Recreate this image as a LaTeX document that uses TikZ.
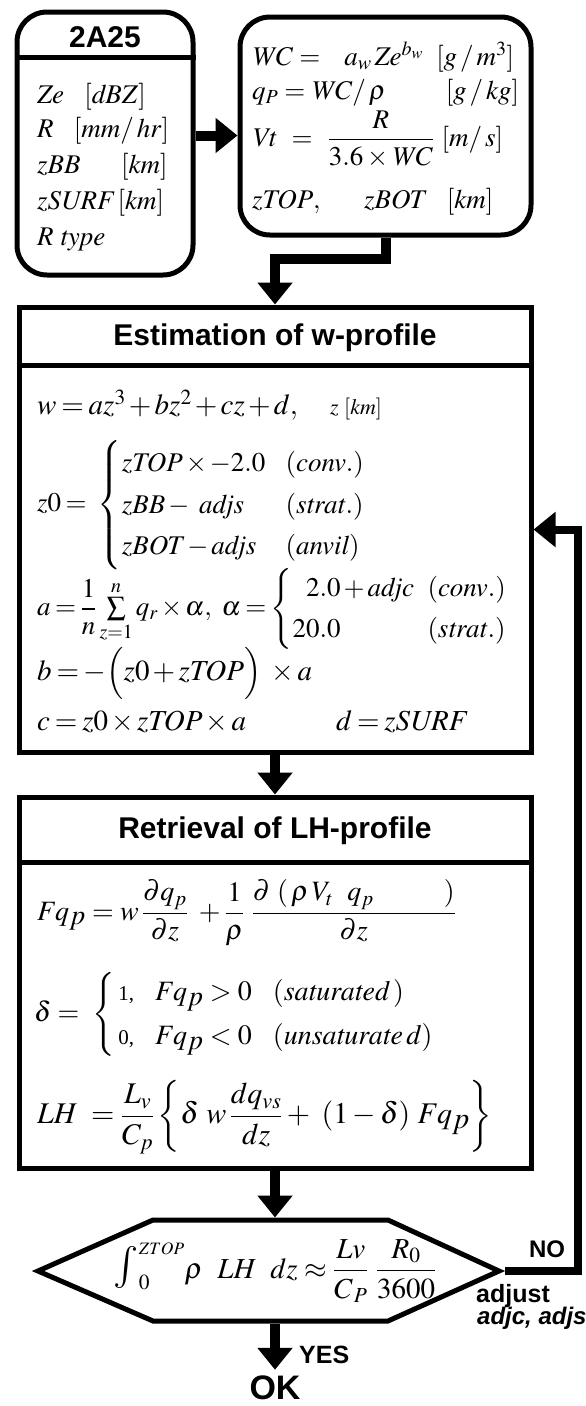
\documentclass[tikz,border=0pt]{standalone}
\usepackage{amsmath}
\usepackage{mathptmx}
\usepackage{fontspec}
\setmainfont{Liberation Serif}
\setsansfont{Liberation Sans}
\usetikzlibrary{arrows.meta}
\newcommand{\Fqp}{\mathit{F}q_{\textstyle p}}
\newcommand{\tightmath}{\medmuskip=2mu\relax\thickmuskip=3mu\relax}
\begin{document}
\begin{tikzpicture}[x=1pt,y=-1pt,
    roundbox/.style={draw,line width=5pt,rounded corners=30pt,inner sep=0pt},
    stepframe/.style={draw,line width=5pt,inner sep=0pt},
    sepline/.style={line width=5pt},
    headtext/.style={inner sep=0pt,font=\sffamily\bfseries\fontsize{30}{34}\selectfont},
    formula/.style={anchor=west,inner sep=0pt,font=\fontsize{27}{31}\selectfont},
    tightformula/.style={formula,font=\fontsize{27}{31}\selectfont\tightmath},
    widetight/.style={formula,font=\fontsize{29}{33}\selectfont\tightmath},
    bigformula/.style={formula,font=\fontsize{28}{31}\selectfont},
    answer/.style={inner sep=0pt,font=\sffamily\bfseries\fontsize{25}{28}\selectfont},
    flow/.style={line width=10pt,-{Triangle[length=22pt,width=34pt]}},
    backflow/.style={line width=8pt,-{Triangle[length=22pt,width=34pt]}}]
    \useasboundingbox (0,0) rectangle (586,1406);
    % input boxes
    \node[roundbox,minimum width=176pt,minimum height=263pt] (src) at (105,143.5) {};
    \node[headtext] (srchead) at (105,37) {2A25};
    \coordinate (srcsep) at (105,57);
    \draw[sepline] (src.west |- srcsep) -- (src.east |- srcsep);
    \node[formula] (ze) at (37,97) {$\mathit{Ze}\ \ \ [\mathit{dBZ}]$};
    \node[formula] (rr) at (37,131) {$R\ \ \ [\mathit{mm}/\,\mathit{hr}]$};
    \node[formula] (zbb) at (37,167) {$\mathit{zBB}\quad\ \ [\mathit{km}]$};
    \node[formula] (zsurf) at (37,203) {$\mathit{zSURF}\,[\mathit{km}]$};
    \node[formula] (rtype) at (37,240) {$R\ \mathit{type}$};
    \node[roundbox,minimum width=291pt,minimum height=218pt] (phys) at (385.5,126) {};
    \node[formula,text width=262pt] (wc) at (252,57) {$\mathit{WC}=\ \ a_w\,\mathit{Ze}^{b_w}$\hfill$[g\,/\,m^3]$\hspace*{6pt}};
    \node[formula,text width=267pt] (qp) at (252,93) {$q_P=\mathit{WC}/\,\rho$\hfill$[g\,/\,\mathit{kg}]$};
    \node[formula,text width=251pt] (vt) at (252,139) {$\mathit{Vt}\ =\ \dfrac{R}{3.6\times \mathit{WC}}$\hfill$[m/\,s]$};
    \node[formula] (ztop) at (252,202) {$\mathit{zTOP},\quad\ \ \mathit{zBOT}\ \ \ [\mathit{km}]$};
    \draw[flow] ([yshift=8pt]src.east) -- ([yshift=8pt]src.east -| phys.west);
    % w-profile
    \node[stepframe,minimum width=512pt,minimum height=445pt] (est) at (275,529.5) {};
    \node[headtext] (esthead) at (275,338) {Estimation of w-profile};
    \coordinate (estsep) at (275,365);
    \draw[sepline] (est.west |- estsep) -- (est.east |- estsep);
    \node[widetight] (weq) at (37,405) {$w=az^3+bz^2+cz+d,\quad\text{\fontsize{22}{22}\selectfont$z\ [\mathit{km}]$}$};
    \node[tightformula] (zeq) at (37,505) {$z0=\ \left\{\def\arraystretch{1.34}\begin{array}{@{}l@{\ \ \ }l@{}}\mathit{zTOP}\times-2.0 & (\mathit{conv.})\\ \mathit{zBB}-\ \mathit{adjs} & (\mathit{strat.})\\ \mathit{zBOT}-\mathit{adjs} & (\mathit{anvil})\end{array}\right.$};
    \node[tightformula] (aeq) at (37,609) {$a=\dfrac{1}{n}\sum\limits_{z=1}^{n}q_r\times\alpha,\ \alpha=\left\{\def\arraystretch{1.32}\begin{array}{@{}l@{\ \ }l@{}}\ \ 2.0+\mathit{adjc} & (\mathit{conv.})\\ 20.0 & (\mathit{strat.})\end{array}\right.$};
    \node[widetight] (beq) at (37,673) {$b=-\Bigl(z0+\mathit{zTOP}\Bigr)\ \times a$};
    \node[widetight] (ceq) at (37,722) {$c=z0\times \mathit{zTOP}\times a$};
    \node[widetight] (deq) at (336,722) {$d=\mathit{zSURF}$};
    \draw[flow] (phys.south) -- ++(0,21) -| (est.north);
    % LH-profile
    \node[stepframe,minimum width=512pt,minimum height=371pt] (retr) at (275,982.5) {};
    \node[headtext] (retrhead) at (275,831) {Retrieval of LH-profile};
    \coordinate (retrsep) at (275,862);
    \draw[sepline] (retr.west |- retrsep) -- (retr.east |- retrsep);
    \node[bigformula] (fqp) at (37,913) {$\Fqp=w\,\dfrac{\partial q_p}{\partial z}\ +\dfrac{1}{\rho}\ \dfrac{\partial\ (\,\rho\,V_t\ \ q_p\qquad\ \ )}{\partial z}$};
    \node[bigformula] (delta) at (34,1014) {$\delta=\ \left\{\def\arraystretch{1.42}\begin{array}{@{\,}l@{\ \ \ }l@{\ \ \ }l}\mbox{\fontsize{21}{21}\selectfont 1,} & \Fqp>0 & (\mathit{saturated}\,)\\ \mbox{\fontsize{21}{21}\selectfont 0,} & \Fqp<0 & (\mathit{unsaturate}\,d)\end{array}\right.$};
    \node[bigformula,font=\fontsize{30}{33}\selectfont] (lheq) at (37,1117) {$\mathit{LH}\ =\dfrac{L_v}{C_p}\left\{\delta\ w\,\dfrac{dq_{vs}}{dz}+\ (1-\delta)\ \Fqp\right\}$};
    \draw[flow] (est.south) -- (retr.north);
    % check
    \coordinate (decW) at (38,1271);
    \coordinate (decE) at (505,1271);
    \coordinate (dectop) at (275,1217.5);
    \coordinate (decbot) at (275,1323.5);
    \draw[line width=5pt] (decW) -- (153,1220) -- (388,1220) -- (499,1271) -- (388,1321) -- (153,1321) -- cycle;
    \node[font=\fontsize{29}{32}\selectfont,inner sep=0pt] (dec) at (275,1271) {$\mathop{\text{\fontsize{42}{42}\selectfont$\int$}}\nolimits_0^{\scriptscriptstyle ZTOP}\!\rho\ \ \mathit{LH}\ \ dz\approx\dfrac{Lv}{C_{\,P}}\ \dfrac{R_0}{3600}$};
    \draw[flow] (retr.south) -- (dectop);
    \node[headtext,font=\sffamily\bfseries\fontsize{34}{38}\selectfont] (ok) at (275,1388) {OK};
    \draw[flow,shorten >=6pt] (decbot) -- (ok.north);
    \node[answer,anchor=west] (yes) at (299,1355) {YES};
    \draw[backflow] (decE) -- ++(73,0) |- (est.east);
    \node[answer,font=\sffamily\bfseries\fontsize{24}{28}\selectfont] (no) at (547,1249) {NO};
    \node[answer,anchor=west] (adj) at (476,1296) {adjust};
    \node[answer,anchor=west,font=\sffamily\bfseries\itshape\fontsize{24}{28}\selectfont] (adjv) at (477,1318) {adjc, adjs};
\end{tikzpicture}
\end{document}
